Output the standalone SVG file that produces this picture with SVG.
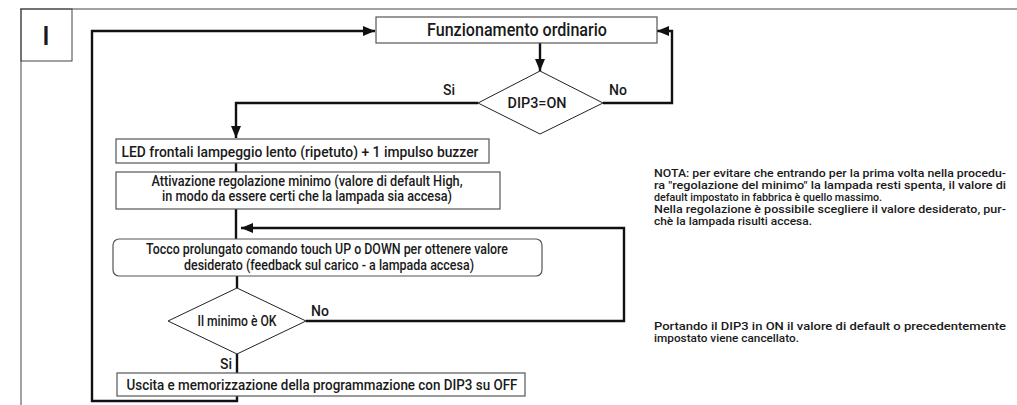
<svg xmlns="http://www.w3.org/2000/svg" width="1017" height="405" viewBox="0 0 1017 405">
  <defs>
    <marker id="arrow" viewBox="0 0 12 10" refX="12" refY="5" markerWidth="12" markerHeight="10" markerUnits="userSpaceOnUse" orient="auto">
      <path d="M0,0 L12,5 L0,10 Z" fill="#111"/>
    </marker>
  </defs>
  <style>
    .frame { fill: none; stroke: #444; stroke-width: 1; }
    .box { fill: #fff; stroke: #555; stroke-width: 1.2; }
    .dia { fill: #fff; stroke: #222; stroke-width: 1; }
    .flow { fill: none; stroke: #111; stroke-width: 2.4; }
    .txt { font-family: Roboto, "Liberation Sans", sans-serif; font-weight: 500; fill: #1a1a1a; }
    .lbl { font-size: 14px; }
    .note { font-size: 10.5px; }
  </style>
  <rect width="1017" height="405" fill="#fff"/>

  <!-- page frame and section tab -->
  <g id="frame">
    <line class="frame" x1="20" y1="9" x2="1017" y2="9"/>
    <line class="frame" x1="21" y1="9" x2="21" y2="405" stroke="#888"/>
    <rect class="frame" x="21" y="9" width="51" height="52"/>
    <text class="txt" x="46" y="45" font-size="26" text-anchor="middle">I</text>
  </g>

  <!-- connectors -->
  <g id="connectors">
    <path class="flow" d="M237,396 V401 H92 V31 H375" marker-end="url(#arrow)"/>
    <path class="flow" d="M603,103 H672 V31 H657" marker-end="url(#arrow)"/>
    <path class="flow" d="M540,43 V71" marker-end="url(#arrow)"/>
    <path class="flow" d="M478,103 H236 V138" marker-end="url(#arrow)"/>
    <path class="flow" d="M236,163 V172"/>
    <path class="flow" d="M236,209 V239"/>
    <path class="flow" d="M306,321 H624 V228 H241" marker-end="url(#arrow)"/>
    <path class="flow" d="M237,276 V288"/>
    <path class="flow" d="M237,354 V373"/>
  </g>

  <g id="n-funzionamento">
    <rect class="box" x="376" y="17" width="281" height="26"/>
    <text class="txt" x="517" y="36" font-size="17.5" text-anchor="middle" textLength="180" lengthAdjust="spacingAndGlyphs">Funzionamento ordinario</text>
  </g>

  <g id="n-dip3">
    <polygon class="dia" points="540,71 603,103 540,134 478,103"/>
    <text class="txt lbl" x="537" y="108" text-anchor="middle" textLength="59" lengthAdjust="spacingAndGlyphs">DIP3=ON</text>
    <text class="txt lbl" x="449" y="95" text-anchor="middle">Si</text>
    <text class="txt lbl" x="618" y="95" text-anchor="middle">No</text>
  </g>

  <g id="n-led">
    <rect class="box" x="116" y="139" width="373" height="24"/>
    <text class="txt" x="300" y="157" font-size="15" text-anchor="middle" textLength="357" lengthAdjust="spacingAndGlyphs">LED frontali lampeggio lento (ripetuto) + 1 impulso buzzer</text>
  </g>

  <g id="n-attivazione">
    <rect class="box" x="116" y="172" width="384" height="37"/>
    <text class="txt lbl" x="307" y="186" text-anchor="middle" textLength="311" lengthAdjust="spacingAndGlyphs">Attivazione regolazione minimo (valore di default High,</text>
    <text class="txt lbl" x="307" y="201" text-anchor="middle" textLength="290" lengthAdjust="spacingAndGlyphs">in modo da essere certi che la lampada sia accesa)</text>
  </g>

  <g id="n-tocco">
    <rect class="box" x="113" y="239" width="429" height="37" rx="6" ry="6"/>
    <text class="txt lbl" x="327" y="254" text-anchor="middle" textLength="362" lengthAdjust="spacingAndGlyphs">Tocco prolungato comando touch UP o DOWN per ottenere valore</text>
    <text class="txt lbl" x="329" y="270" text-anchor="middle" textLength="290" lengthAdjust="spacingAndGlyphs">desiderato (feedback sul carico - a lampada accesa)</text>
  </g>

  <g id="n-minimo">
    <polygon class="dia" points="237,288 306,321 237,354 168,321"/>
    <text class="txt lbl" x="237" y="326" text-anchor="middle" textLength="79" lengthAdjust="spacingAndGlyphs">Il minimo è OK</text>
    <text class="txt lbl" x="320" y="316" text-anchor="middle">No</text>
    <text class="txt lbl" x="226" y="369" text-anchor="middle">Si</text>
  </g>

  <g id="n-uscita">
    <rect class="box" x="117" y="373" width="408" height="23"/>
    <text class="txt" x="322" y="390" font-size="15" text-anchor="middle" textLength="391" lengthAdjust="spacingAndGlyphs">Uscita e memorizzazione della programmazione con DIP3 su OFF</text>
  </g>

  <!-- side notes -->
  <g id="notes" class="txt note">
    <text x="654" y="177" textLength="352" lengthAdjust="spacingAndGlyphs">NOTA: per evitare che entrando per la prima volta nella procedu-</text>
    <text x="654" y="189" textLength="352" lengthAdjust="spacingAndGlyphs">ra "regolazione del minimo" la lampada resti spenta, il valore di</text>
    <text x="654" y="201" textLength="228" lengthAdjust="spacingAndGlyphs">default impostato in fabbrica è quello massimo.</text>
    <text x="654" y="213" textLength="352" lengthAdjust="spacingAndGlyphs">Nella regolazione è possibile scegliere il valore desiderato, pur-</text>
    <text x="654" y="225" textLength="158" lengthAdjust="spacingAndGlyphs">chè la lampada risulti accesa.</text>
    <text x="654" y="330" textLength="352" lengthAdjust="spacingAndGlyphs">Portando il DIP3 in ON il valore di default o precedentemente</text>
    <text x="654" y="342" textLength="145" lengthAdjust="spacingAndGlyphs">impostato viene cancellato.</text>
  </g>
</svg>
